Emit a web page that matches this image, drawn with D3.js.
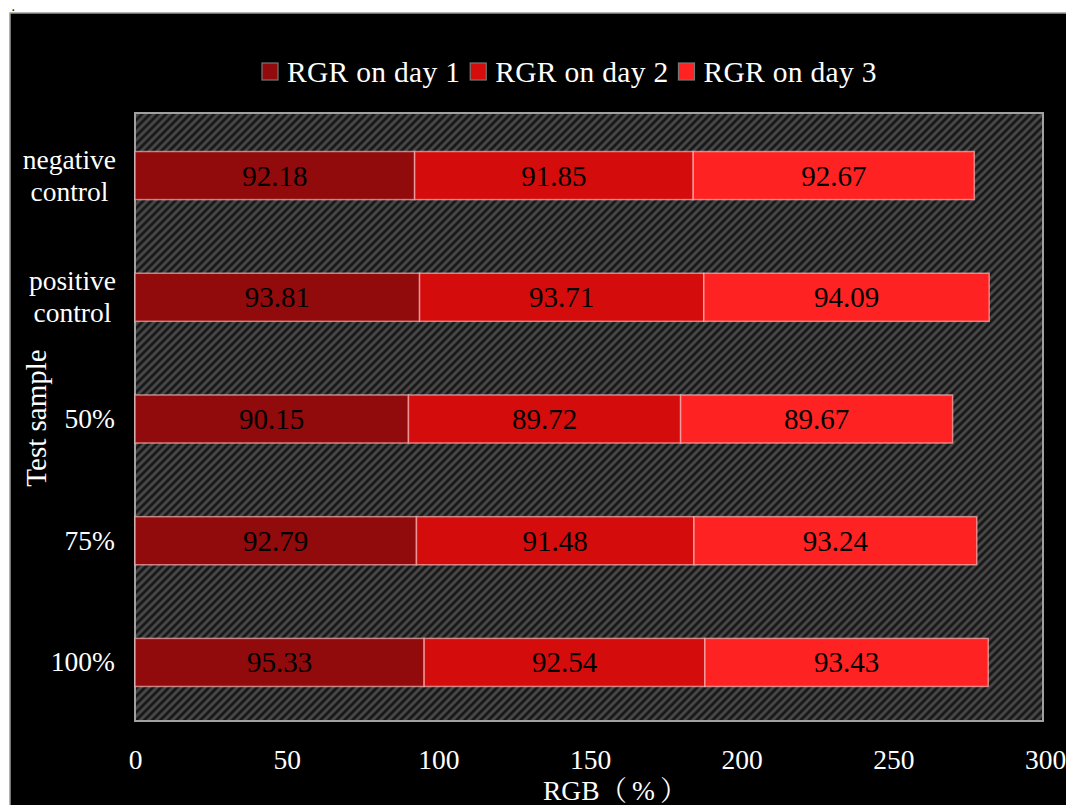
<!DOCTYPE html>
<html><head><meta charset="utf-8">
<script src="https://cdn.jsdelivr.net/npm/d3@7"></script>
<style>body{margin:0;background:#fff;} svg{display:block;}</style>
</head><body>
<svg id="c" width="1066" height="805"></svg>
<script>
const categories = ["negative control", "positive control", "50%", "75%", "100%"];
const seriesNames = ["RGR on day 1", "RGR on day 2", "RGR on day 3"];
const day1 = [92.18, 93.81, 90.15, 92.79, 95.33];
const day2 = [91.85, 93.71, 89.72, 91.48, 92.54];
const day3 = [92.67, 94.09, 89.67, 93.24, 93.43];
const xTicks = [0, 50, 100, 150, 200, 250, 300];
const colors = ["#910a0c", "#d50c0c", "#ff2222"];

const svg = d3.select("#c");
const FONT = "'Liberation Serif','Times New Roman','Noto Serif CJK SC','Noto Sans CJK SC',serif";

// outer frame
svg.append("rect").attr("x", 10).attr("y", 13).attr("width", 1060).attr("height", 800)
  .attr("fill", "#000").attr("stroke", "#9a9a9a").attr("stroke-width", 1.5);
svg.append("text").attr("x", 12).attr("y", 11).attr("font-family", FONT).attr("font-size", 10)
  .attr("font-weight", "bold").attr("fill", "#000").text(".");

const m = {left: 135, right: 1043, top: 113, bottom: 721};
const x = d3.scaleLinear().domain([0, 300]).range([m.left, m.right + 2]);
const y = d3.scaleBand().domain(categories).range([m.top + 2, m.bottom + 2]).paddingInner(0.605).paddingOuter(0.3);

// hatch pattern
const defs = svg.append("defs");
const pat = defs.append("pattern").attr("id", "hatch").attr("patternUnits", "userSpaceOnUse")
  .attr("width", 5.66).attr("height", 10).attr("patternTransform", "rotate(45)");
pat.append("rect").attr("width", 5.66).attr("height", 10).attr("fill", "#161616");
pat.append("rect").attr("x", 1.4).attr("width", 2.8).attr("height", 10).attr("fill", "#4a4a4a");

svg.append("rect").attr("x", m.left).attr("y", m.top).attr("width", m.right - m.left)
  .attr("height", m.bottom - m.top).attr("fill", "url(#hatch)")
  .attr("stroke", "#a0a0a0").attr("stroke-width", 2);

// stacked data
const table = categories.map((c, i) => ({cat: c, s0: day1[i], s1: day2[i], s2: day3[i]}));
const stack = d3.stack().keys(["s0", "s1", "s2"])(table);

const g = svg.append("g");
stack.forEach((layer, si) => {
  layer.forEach(d => {
    const cat = d.data.cat;
    g.append("rect").attr("x", x(d[0])).attr("y", y(cat))
      .attr("width", x(d[1]) - x(d[0])).attr("height", y.bandwidth())
      .attr("fill", colors[si]).attr("stroke", "rgba(255,190,190,0.65)").attr("stroke-width", 1.5);
    g.append("text").attr("x", (x(d[0]) + x(d[1])) / 2).attr("y", y(cat) + y.bandwidth() / 2 + 10)
      .attr("text-anchor", "middle").attr("font-family", FONT).attr("font-size", 29)
      .attr("fill", "#000").text((d[1] - d[0]).toFixed(2));
  });
});

// x axis labels
const xa = svg.append("g").attr("transform", `translate(0,${m.bottom})`)
  .call(d3.axisBottom(x).tickValues(xTicks).tickSize(0).tickPadding(28).tickFormat(d3.format("d")));
xa.select(".domain").remove();
xa.selectAll("text").attr("font-family", FONT).attr("font-size", 27.5).attr("fill", "#fff");

// y axis labels
const ya = svg.append("g").attr("transform", `translate(${m.left},0)`)
  .call(d3.axisLeft(y).tickSize(0).tickPadding(20));
ya.select(".domain").remove();
ya.selectAll(".tick text").each(function(d) {
  const t = d3.select(this);
  t.attr("font-family", FONT).attr("font-size", 27.5).attr("fill", "#fff");
  const words = d.split(" ");
  if (words.length > 1) {
    t.text(null).attr("text-anchor", "middle").attr("dy", null);
    const lines = words.map(w => t.append("tspan").attr("x", 0).text(w));
    let maxW = 0;
    lines.forEach(l => { maxW = Math.max(maxW, l.node().getComputedTextLength()); });
    const cx = -19 - maxW / 2;
    lines.forEach((l, i) => l.attr("x", cx).attr("y", -7 + i * 32));
  }
});

// axis titles
const xt = svg.append("text").attr("x", 543).attr("y", 800).attr("text-anchor", "start")
  .attr("font-family", FONT).attr("font-size", 27.5).attr("fill", "#fff");
xt.append("tspan").text("RGB");
xt.append("tspan").attr("letter-spacing", 5).text("（%）");
svg.append("text").attr("transform", "translate(46,418) rotate(-90)").attr("text-anchor", "middle")
  .attr("font-family", FONT).attr("font-size", 29).attr("fill", "#fff").text("Test sample");

// legend
let lx = 262;
seriesNames.forEach((s, i) => {
  svg.append("rect").attr("x", lx).attr("y", 63).attr("width", 16).attr("height", 17)
    .attr("fill", colors[i]).attr("stroke", "#777").attr("stroke-width", 1.2);
  const t = svg.append("text").attr("x", lx + 25).attr("y", 82).attr("font-family", FONT)
    .attr("font-size", 29.5).attr("letter-spacing", 0.3).attr("fill", "#fff").text(s);
  lx += 25 + t.node().getComputedTextLength() + 10;
});
</script>
</body></html>
